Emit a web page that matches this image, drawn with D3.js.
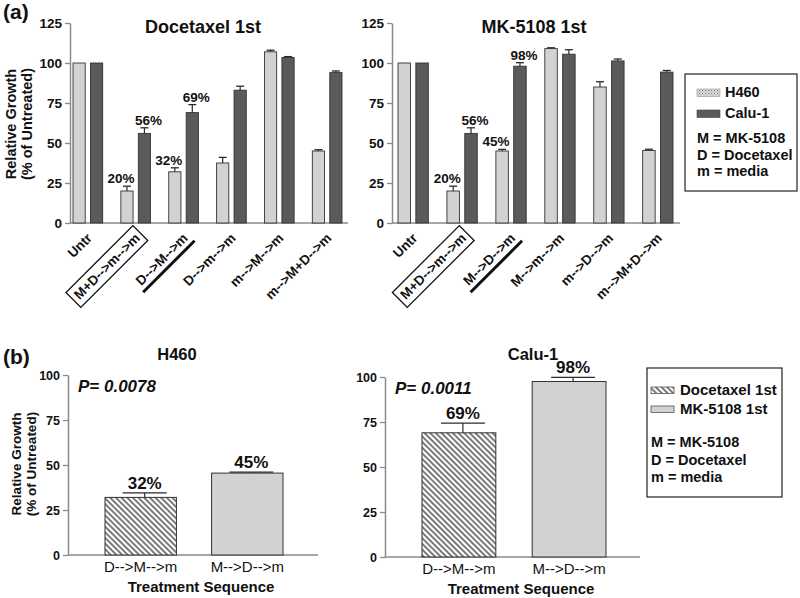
<!DOCTYPE html>
<html><head><meta charset="utf-8">
<script src="https://cdn.jsdelivr.net/npm/d3@7"></script>
<style>body{margin:0;background:#fff}svg{display:block;font-family:"Liberation Sans",Arial,Helvetica,sans-serif}</style>
</head><body><svg id="c" width="800" height="598"></svg>
<script>
// ---------- DATA ----------
const seriesNames = ["H460", "Calu-1"];
const topTicks = [0, 25, 50, 75, 100, 125];
const bottomTicks = [0, 25, 50, 75, 100];

const docCats = ["Untr", "M+D-->m-->m", "D-->M-->m", "D-->m-->m", "m-->M-->m", "m-->M+D-->m"];
const docH460 = [100, 20, 32, 37.5, 107, 45];
const docH460Err = [0, 3, 2.5, 3.5, 1, 0.8];
const docCalu = [100, 56, 69, 83, 103.5, 94];
const docCaluErr = [0, 3.5, 5, 2.5, 0.5, 1];
const docH460Lbl = ["", "20%", "32%", "", "", ""];
const docCaluLbl = ["", "56%", "69%", "", "", ""];

const mkCats = ["Untr", "M+D-->m-->m", "M-->D-->m", "M-->m-->m", "m-->D-->m", "m-->M+D-->m"];
const mkH460 = [100, 20, 45, 109, 85, 45.3];
const mkH460Err = [0, 3, 1, 0.5, 3.3, 0.8];
const mkCalu = [100, 56, 98, 105.5, 101.3, 94.3];
const mkCaluErr = [0, 3.5, 2.2, 2.8, 1.2, 1];
const mkH460Lbl = ["", "20%", "45%", "", "", ""];
const mkCaluLbl = ["", "56%", "98%", "", "", ""];

const seqCats = ["D-->M-->m", "M-->D-->m"];
const seqH460 = [32, 45.5];
const seqH460Err = [2.5, 0.5];
const seqCalu = [69, 97.5];
const seqCaluErr = [5.4, 2.3];
const seqH460Lbl = ["32%", "45%"];
const seqCaluLbl = ["69%", "98%"];
const seqNames = ["Docetaxel 1st", "MK-5108 1st"];
const legendNotes = ["M = MK-5108", "D = Docetaxel", "m = media"];

// ---------- STYLE ----------
const AX = "#8a8a8a", DARK = "#2a2a2a";
const LIGHT_FILL = "#d2d2d2", DARK_FILL = "#5a5a5a";

const svg = d3.select("#c");
const defs = svg.append("defs");
const hatch = defs.append("pattern").attr("id", "hatch").attr("patternUnits", "userSpaceOnUse")
  .attr("width", 4).attr("height", 4).attr("patternTransform", "rotate(-45)");
hatch.append("rect").attr("width", 4).attr("height", 4).attr("fill", "#fff");
hatch.append("line").attr("x1", 2).attr("x2", 2).attr("y1", 0).attr("y2", 4).attr("stroke", "#333").attr("stroke-width", 1.3);
const xh = defs.append("pattern").attr("id", "xhatch").attr("patternUnits", "userSpaceOnUse")
  .attr("width", 3).attr("height", 3);
xh.append("rect").attr("width", 3).attr("height", 3).attr("fill", "#e6e6e6");
xh.append("rect").attr("width", 1.2).attr("height", 1.2).attr("fill", "#777");
xh.append("rect").attr("x", 1.5).attr("y", 1.5).attr("width", 1.2).attr("height", 1.2).attr("fill", "#999");

function styleAxis(g) {
  g.select(".domain").attr("stroke", AX).attr("stroke-width", 1.5);
  g.selectAll(".tick line").attr("stroke", AX).attr("stroke-width", 1.3);
  g.selectAll(".tick text").attr("fill", "#111").attr("font-family", "Liberation Sans, Arial, sans-serif");
}

function yTitle(x, y, size) {
  const t = svg.append("text").attr("transform", `translate(${x},${y}) rotate(-90)`)
    .attr("text-anchor", "middle").attr("font-weight", "bold").attr("font-size", size).attr("fill", "#111");
  t.append("tspan").attr("x", 0).attr("dy", 0).text("Relative Growth");
  t.append("tspan").attr("x", 0).attr("dy", size * 1.1).text("(% of Untreated)");
}

function errorBar(g, cx, y, v, e, half) {
  if (!e) return;
  g.append("line").attr("x1", cx).attr("x2", cx).attr("y1", y(v)).attr("y2", y(v + e)).attr("stroke", DARK).attr("stroke-width", 1.2);
  g.append("line").attr("x1", cx - half).attr("x2", cx + half).attr("y1", y(v + e)).attr("y2", y(v + e)).attr("stroke", DARK).attr("stroke-width", 1.3);
}

function topPanel(c) {
  const g = svg.append("g");
  const y = d3.scaleLinear().domain([0, 125]).range([223, 23]);
  const x0 = d3.scaleBand().domain(c.cats).range([c.b0, c.b1]).paddingInner(0.38).paddingOuter(0);
  const x1 = d3.scaleBand().domain(seriesNames).range([0, x0.bandwidth()]).paddingInner(0.3);
  const ya = g.append("g").attr("transform", `translate(${c.ax},0)`)
    .call(d3.axisLeft(y).tickValues(topTicks).tickSize(5).tickSizeOuter(0).tickPadding(3));
  styleAxis(ya);
  ya.selectAll(".tick text").attr("font-size", 13.5).attr("font-weight", "bold");
  g.append("line").attr("x1", c.ax).attr("x2", c.axEnd).attr("y1", y(0)).attr("y2", y(0)).attr("stroke", AX).attr("stroke-width", 1.6);

  const series = [
    {name: "H460", v: c.h, e: c.he, l: c.hl, fill: LIGHT_FILL, dx: -6},
    {name: "Calu-1", v: c.c, e: c.ce, l: c.cl, fill: DARK_FILL, dx: 4}
  ];
  series.forEach(s => {
    c.cats.forEach((cat, i) => {
      const bx = x0(cat) + x1(s.name), bw = x1.bandwidth();
      g.append("rect").attr("x", bx).attr("y", y(s.v[i])).attr("width", bw).attr("height", y(0) - y(s.v[i]))
        .attr("fill", s.fill).attr("stroke", "#333").attr("stroke-width", 0.9);
      errorBar(g, bx + bw / 2, y, s.v[i], s.e[i], 4);
      if (s.l[i]) g.append("text").attr("x", bx + bw / 2 + s.dx).attr("y", y(s.v[i] + s.e[i]) - 3)
        .attr("text-anchor", "middle").attr("font-weight", "bold").attr("font-size", 13.5).attr("fill", "#111").text(s.l[i]);
    });
  });

  c.cats.forEach((cat, i) => {
    const lg = g.append("g").attr("transform", `translate(${x0(cat) + x0.bandwidth() / 2 + 5},${239}) rotate(-45)`);
    const t = lg.append("text").attr("text-anchor", "end").attr("font-weight", "bold").attr("font-size", 13.5).attr("fill", "#111").text(cat);
    const bb = t.node().getBBox();
    if (i === 1) lg.append("rect").attr("x", bb.x - 4).attr("y", bb.y - 3).attr("width", bb.width + 8).attr("height", bb.height + 6)
      .attr("fill", "none").attr("stroke", "#111").attr("stroke-width", 1.3);
    if (i === 2) lg.append("line").attr("x1", bb.x - 3).attr("x2", bb.x + bb.width + 3).attr("y1", bb.y + bb.height + 2.5).attr("y2", bb.y + bb.height + 2.5)
      .attr("stroke", "#111").attr("stroke-width", 3);
  });
  g.append("text").attr("x", c.tx).attr("y", 33).attr("text-anchor", "middle").attr("font-weight", "bold").attr("font-size", 18).attr("fill", "#111").text(c.title);
}

topPanel({cats: docCats, h: docH460, he: docH460Err, c: docCalu, ce: docCaluErr, hl: docH460Lbl, cl: docCaluLbl,
  ax: 70, axEnd: 348, b0: 73, b1: 342, title: "Docetaxel 1st", tx: 203});
topPanel({cats: mkCats, h: mkH460, he: mkH460Err, c: mkCalu, ce: mkCaluErr, hl: mkH460Lbl, cl: mkCaluLbl,
  ax: 392, axEnd: 680, b0: 398, b1: 673, title: "MK-5108 1st", tx: 534});
yTitle(16, 124, 14.5);
svg.append("text").attr("x", 3).attr("y", 19).attr("font-weight", "bold").attr("font-size", 21).attr("fill", "#111").text("(a)");

// top legend
(function () {
  const g = svg.append("g");
  g.append("rect").attr("x", 685).attr("y", 74).attr("width", 112).attr("height", 117).attr("fill", "#fff").attr("stroke", "#222").attr("stroke-width", 1.2);
  const fills = ["url(#xhatch)", DARK_FILL];
  seriesNames.forEach((n, i) => {
    g.append("rect").attr("x", 697).attr("y", 89 + i * 21).attr("width", 23).attr("height", 7.5).attr("fill", fills[i]).attr("stroke", i ? "#444" : "#999").attr("stroke-width", 0.6);
    g.append("text").attr("x", 725).attr("y", 97 + i * 21).attr("font-weight", "bold").attr("font-size", 14.5).attr("fill", "#111").text(n);
  });
  legendNotes.forEach((n, i) => g.append("text").attr("x", 697).attr("y", 143 + i * 16.5).attr("font-weight", "bold").attr("font-size", 14.5).attr("fill", "#111").text(n));
})();

// ---------- BOTTOM ----------
function bottomPanel(c) {
  const g = svg.append("g");
  const y = d3.scaleLinear().domain([0, 100]).range([c.y0, c.y0 - 180]);
  const x = d3.scaleBand().domain(seqCats).range([c.b0, c.b1]).paddingInner(0.33).paddingOuter(0);
  const ya = g.append("g").attr("transform", `translate(${c.ax},0)`)
    .call(d3.axisLeft(y).tickValues(bottomTicks).tickSize(5).tickSizeOuter(0).tickPadding(3));
  styleAxis(ya);
  ya.selectAll(".tick text").attr("font-size", 12.5).attr("font-weight", "bold");
  g.append("line").attr("x1", c.ax).attr("x2", c.axEnd).attr("y1", y(0)).attr("y2", y(0)).attr("stroke", AX).attr("stroke-width", 1.6);
  const fills = ["url(#hatch)", LIGHT_FILL];
  seqCats.forEach((cat, i) => {
    const bx = x(cat), bw = x.bandwidth();
    g.append("rect").attr("x", bx).attr("y", y(c.v[i])).attr("width", bw).attr("height", y(0) - y(c.v[i]))
      .attr("fill", fills[i]).attr("stroke", "#333").attr("stroke-width", 1);
    errorBar(g, bx + bw / 2 + 4, y, c.v[i], c.e[i], 22);
    g.append("text").attr("x", bx + bw / 2 + 4).attr("y", y(c.v[i] + c.e[i]) - 4).attr("text-anchor", "middle")
      .attr("font-weight", "bold").attr("font-size", 17).attr("fill", "#111").text(c.l[i]);
    g.append("text").attr("x", bx + bw / 2).attr("y", c.y0 + 17).attr("text-anchor", "middle")
      .attr("font-size", 15).attr("fill", "#111").text(cat);
  });
  g.append("text").attr("x", (c.b0 + c.b1) / 2 + 7).attr("y", c.y0 + 37).attr("text-anchor", "middle")
    .attr("font-weight", "bold").attr("font-size", 15).attr("fill", "#111").text("Treatment Sequence");
  g.append("text").attr("x", c.ax + 10).attr("y", c.y0 - 163).attr("font-weight", "bold").attr("font-style", "italic")
    .attr("font-size", 17).attr("fill", "#111").text(c.p);
  g.append("text").attr("x", c.tx).attr("y", 360).attr("text-anchor", "middle").attr("font-weight", "bold").attr("font-size", 16.5).attr("fill", "#111").text(c.title);
}
bottomPanel({v: seqH460, e: seqH460Err, l: seqH460Lbl, ax: 68, axEnd: 318, b0: 105, b1: 283, y0: 555, p: "P= 0.0078", title: "H460", tx: 177});
bottomPanel({v: seqCalu, e: seqCaluErr, l: seqCaluLbl, ax: 385, axEnd: 640, b0: 422, b1: 606, y0: 557, p: "P= 0.0011", title: "Calu-1", tx: 533});
yTitle(21, 464, 13.5);
svg.append("text").attr("x", 3).attr("y", 364).attr("font-weight", "bold").attr("font-size", 21).attr("fill", "#111").text("(b)");

// bottom legend
(function () {
  const g = svg.append("g");
  g.append("rect").attr("x", 647).attr("y", 368).attr("width", 135).attr("height", 129).attr("fill", "#fff").attr("stroke", "#222").attr("stroke-width", 1.2);
  const fills = ["url(#hatch)", LIGHT_FILL];
  seqNames.forEach((n, i) => {
    g.append("rect").attr("x", 651).attr("y", 387 + i * 19).attr("width", 23).attr("height", 6.5).attr("fill", fills[i]).attr("stroke", "#555").attr("stroke-width", 0.8);
    g.append("text").attr("x", 680).attr("y", 395 + i * 19).attr("font-weight", "bold").attr("font-size", 15).attr("fill", "#111").text(n);
  });
  legendNotes.forEach((n, i) => g.append("text").attr("x", 651).attr("y", 447 + i * 17.5).attr("font-weight", "bold").attr("font-size", 14.5).attr("fill", "#111").text(n));
})();
</script></body></html>
